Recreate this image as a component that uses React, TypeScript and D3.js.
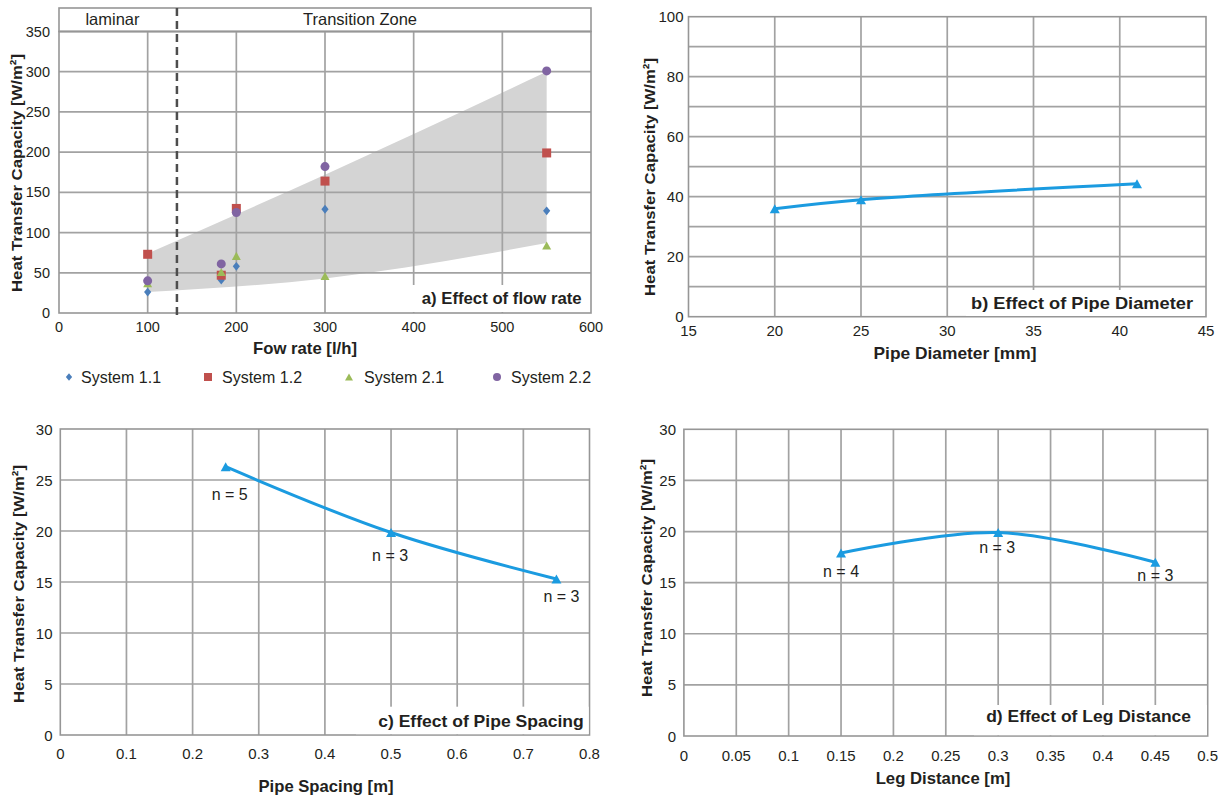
import React from "react";
import * as d3 from "d3";

const FONT = "'Liberation Sans', Arial, Helvetica, sans-serif";

// ---------- Panel a: effect of flow rate ----------
const flowRates = [100, 183, 200, 300, 550];
const system11 = [26, 41, 58, 129, 127];
const system12 = [73, 47, 130, 164, 199];
const system21 = [37, 51, 71, 46, 84];
const system22 = [40, 61, 125, 182, 301];
const seriesNames = ["System 1.1", "System 1.2", "System 2.1", "System 2.2"];
const bandFlow = [100, 300, 550];
const bandLower = [26, 43, 87];
const bandUpper = [74, 172, 300];
const laminarLimit = 133;
const flowXTicks = [0, 100, 200, 300, 400, 500, 600];
const flowYTicks = [0, 50, 100, 150, 200, 250, 300, 350];

// ---------- Panel b: effect of pipe diameter ----------
const pipeDiameters = [20, 25, 41];
const diameterCapacity = [36, 39, 44.3];
const diameterXTicks = [15, 20, 25, 30, 35, 40, 45];
const diameterYGrid = [0, 10, 20, 30, 40, 50, 60, 70, 80, 90, 100];
const diameterYLabels = [0, 20, 40, 60, 80, 100];

// ---------- Panel c: effect of pipe spacing ----------
const pipeSpacings = [0.25, 0.5, 0.75];
const spacingCapacity = [26.3, 19.85, 15.3];
const spacingNotes = ["n = 5", "n = 3", "n = 3"];
const spacingXTicks = [0, 0.1, 0.2, 0.3, 0.4, 0.5, 0.6, 0.7, 0.8];
const spacingXLabels = ["0", "0.1", "0.2", "0.3", "0.4", "0.5", "0.6", "0.7", "0.8"];

// ---------- Panel d: effect of leg distance ----------
const legDistances = [0.15, 0.3, 0.45];
const legCapacity = [17.9, 19.9, 17.0];
const legNotes = ["n = 4", "n = 3", "n = 3"];
const legXTicks = [0, 0.05, 0.1, 0.15, 0.2, 0.25, 0.3, 0.35, 0.4, 0.45, 0.5];
const legXLabels = ["0", "0.05", "0.1", "0.15", "0.2", "0.25", "0.3", "0.35", "0.4", "0.45", "0.5"];

const capacityYTicks = [0, 5, 10, 15, 20, 25, 30];

// ---------- styles ----------
const GRID = "#a2a2a2";
const BORDER = "#969696";
const TEXT = "#231f20";
const LINE_BLUE = "#1b9be0";
const SERIES_COLORS = ["#4a7ebb", "#c0504d", "#9bbb59", "#8064a2"];
const BAND = "#d4d4d4";
const Y_LABEL = "Heat Transfer Capacity [W/m²]";

const trianglePath = (w: number, h: number) =>
  `M0,${-h / 2}L${w / 2},${h / 2}L${-w / 2},${h / 2}Z`;

function marker(kind: number, x: number, y: number, color: string, s: number, key: string) {
  if (kind === 0) {
    return (
      <path key={key} d={`M0,${-s * 0.55}L${s * 0.45},0L0,${s * 0.55}L${-s * 0.45},0Z`}
        transform={`translate(${x},${y})`} fill={color} />
    );
  }
  if (kind === 1) {
    return <rect key={key} x={x - s / 2} y={y - s / 2} width={s} height={s} fill={color} />;
  }
  if (kind === 2) {
    return <path key={key} d={trianglePath(s, s * 0.9)} transform={`translate(${x},${y})`} fill={color} />;
  }
  return <circle key={key} cx={x} cy={y} r={s / 2} fill={color} />;
}

type Frame = { left: number; right: number; top: number; bottom: number };

function YLabel({ x, y }: { x: number; y: number }) {
  return (
    <text transform={`translate(${x},${y}) rotate(-90)`} textAnchor="middle" dominantBaseline="central"
      fontFamily={FONT} fontWeight="bold" fontSize={15.5} fill={TEXT} textLength={238} lengthAdjust="spacingAndGlyphs">
      {Y_LABEL}
    </text>
  );
}

function Title({ text, right, baseline, width, box }: { text: string; right: number; baseline: number; width: number; box: [number, number, number, number] }) {
  return (
    <g>
      <rect x={box[0]} y={box[1]} width={box[2] - box[0]} height={box[3] - box[1]} fill="#ffffff" />
      <text x={right} y={baseline} textAnchor="end" fontFamily={FONT} fontWeight="bold" fontSize={17}
        fill={TEXT} textLength={width} lengthAdjust="spacingAndGlyphs">{text}</text>
    </g>
  );
}

function PanelA() {
  const f: Frame = { left: 59, right: 591, top: 31.5, bottom: 313 };
  const x = d3.scaleLinear().domain([0, 600]).range([f.left, f.right]);
  const y = d3.scaleLinear().domain([0, 350]).range([f.bottom, f.top]);
  const headerTop = 8;

  const upper = d3.line<number>().x((_, i) => x(bandFlow[i])).y((d) => y(d)).curve(d3.curveMonotoneX)(bandUpper) || "";
  const lowerPts = bandFlow.map((v, i) => [x(v), y(bandLower[i])] as [number, number]).reverse();
  const lower = d3.line().curve(d3.curveMonotoneX)(lowerPts) || "";
  const bandPath = upper + "L" + lower.slice(1) + "Z";

  const series = [system11, system12, system21, system22];
  const legendX = [69, 208, 349, 497];
  const legendTextX = [81, 222, 364, 511];

  return (
    <g>
      {/* header band */}
      <rect x={f.left} y={headerTop} width={f.right - f.left} height={f.top - headerTop} fill="#fff" stroke={BORDER} strokeWidth={1.6} />
      <text x={112.5} y={25} textAnchor="middle" fontFamily={FONT} fontSize={16.5} fill={TEXT}>laminar</text>
      <text x={303} y={25} textAnchor="start" fontFamily={FONT} fontSize={16.5} fill={TEXT}>Transition Zone</text>

      <path d={bandPath} fill={BAND} />

      {flowXTicks.slice(1, -1).map((t) => (
        <line key={"gx" + t} x1={x(t)} x2={x(t)} y1={f.top} y2={f.bottom} stroke={GRID} strokeWidth={1.7} />
      ))}
      {flowYTicks.slice(1).map((t) => (
        <line key={"gy" + t} x1={f.left} x2={f.right} y1={y(t)} y2={y(t)} stroke={GRID} strokeWidth={1.7} />
      ))}
      <rect x={f.left} y={f.top} width={f.right - f.left} height={f.bottom - f.top} fill="none" stroke={BORDER} strokeWidth={1.6} />

      <line x1={x(laminarLimit)} x2={x(laminarLimit)} y1={headerTop} y2={f.bottom + 4} stroke="#4d4d4d"
        strokeWidth={2.5} strokeDasharray="8,5" />

      <Title text="a) Effect of flow rate" right={581.7} baseline={303.5} width={160} box={[407, 285, 590, 312]} />

      {series.map((s, si) =>
        s.map((v, i) => marker(si, x(flowRates[i]), y(v), SERIES_COLORS[si], si === 0 ? 8 : 9, `m${si}-${i}`))
      )}

      {flowXTicks.map((t) => (
        <text key={"xl" + t} x={x(t)} y={331.5} textAnchor="middle" fontFamily={FONT} fontSize={14.5} fill={TEXT}>{t}</text>
      ))}
      {flowYTicks.map((t) => (
        <text key={"yl" + t} x={50} y={y(t)} textAnchor="end" dominantBaseline="central" fontFamily={FONT} fontSize={14.5} fill={TEXT}>{t}</text>
      ))}
      <YLabel x={16} y={173} />
      <text x={305} y={353.5} textAnchor="middle" fontFamily={FONT} fontWeight="bold" fontSize={16.5} fill={TEXT}
        textLength={104} lengthAdjust="spacingAndGlyphs">Fow rate [l/h]</text>

      {seriesNames.map((n, i) => (
        <g key={n}>
          {marker(i, legendX[i], 377, SERIES_COLORS[i], i === 0 ? 7 : 8, "lg" + i)}
          <text x={legendTextX[i]} y={377} dominantBaseline="central" fontFamily={FONT} fontSize={16} fill={TEXT}>{n}</text>
        </g>
      ))}
    </g>
  );
}

function LinePanel(props: {
  f: Frame;
  xDomain: [number, number];
  yDomain: [number, number];
  xTicks: number[];
  xLabels: string[];
  yGrid: number[];
  yLabels: number[];
  xs: number[];
  ys: number[];
  notes?: string[];
  noteOffsets?: [number, number][];
  title: string;
  titleRight: number;
  titleBaseline: number;
  titleWidth: number;
  titleBox: [number, number, number, number];
  xLabel: string;
  xLabelX: number;
  xLabelBaseline: number;
  xLabelWidth: number;
  xTickBaseline: number;
  yTickRight: number;
  yLabelX: number;
  yLabelY: number;
}) {
  const p = props;
  const { f } = p;
  const x = d3.scaleLinear().domain(p.xDomain).range([f.left, f.right]);
  const y = d3.scaleLinear().domain(p.yDomain).range([f.bottom, f.top]);
  const pts = p.xs.map((v, i) => [x(v), y(p.ys[i])] as [number, number]);
  const path = d3.line().curve(d3.curveCatmullRom.alpha(0.5))(pts) || "";
  return (
    <g>
      {p.xTicks.slice(1, -1).map((t) => (
        <line key={"gx" + t} x1={x(t)} x2={x(t)} y1={f.top} y2={f.bottom} stroke={GRID} strokeWidth={1.7} />
      ))}
      {p.yGrid.slice(1, -1).map((t) => (
        <line key={"gy" + t} x1={f.left} x2={f.right} y1={y(t)} y2={y(t)} stroke={GRID} strokeWidth={1.7} />
      ))}
      <rect x={f.left} y={f.top} width={f.right - f.left} height={f.bottom - f.top} fill="none" stroke={BORDER} strokeWidth={1.6} />
      <Title text={p.title} right={p.titleRight} baseline={p.titleBaseline} width={p.titleWidth} box={p.titleBox} />

      {p.notes && p.notes.map((n, i) => (
        <text key={"n" + i} x={pts[i][0] + p.noteOffsets![i][0]} y={pts[i][1] + p.noteOffsets![i][1]} textAnchor="middle"
          dominantBaseline="central" fontFamily={FONT} fontSize={16} fill={TEXT}>{n}</text>
      ))}

      <path d={path} fill="none" stroke={LINE_BLUE} strokeWidth={3} />
      {pts.map((pt, i) => (
        <path key={"t" + i} d={trianglePath(10, 9)} transform={`translate(${pt[0]},${pt[1]})`} fill={LINE_BLUE} />
      ))}

      {p.xTicks.map((t, i) => (
        <text key={"xl" + i} x={x(t)} y={p.xTickBaseline} textAnchor="middle" fontFamily={FONT} fontSize={15} fill={TEXT}>{p.xLabels[i]}</text>
      ))}
      {p.yLabels.map((t) => (
        <text key={"yl" + t} x={p.yTickRight} y={y(t)} textAnchor="end" dominantBaseline="central" fontFamily={FONT} fontSize={15} fill={TEXT}>{t}</text>
      ))}
      <YLabel x={p.yLabelX} y={p.yLabelY} />
      <text x={p.xLabelX} y={p.xLabelBaseline} textAnchor="middle" fontFamily={FONT} fontWeight="bold" fontSize={16.5} fill={TEXT}
        textLength={p.xLabelWidth} lengthAdjust="spacingAndGlyphs">{p.xLabel}</text>
    </g>
  );
}

export default function App() {
  return (
    <svg width={1227} height={798} viewBox="0 0 1227 798"
      style={{ position: "absolute", left: 0, top: 0, background: "#fff" }}>
      <rect x={0} y={0} width={1227} height={798} fill="#fff" />
      <PanelA />
      <LinePanel
        f={{ left: 688.5, right: 1206, top: 16.7, bottom: 316.7 }}
        xDomain={[15, 45]} yDomain={[0, 100]}
        xTicks={diameterXTicks} xLabels={diameterXTicks.map(String)}
        yGrid={diameterYGrid} yLabels={diameterYLabels}
        xs={pipeDiameters} ys={diameterCapacity}
        title="b) Effect of Pipe Diameter" titleRight={1193} titleBaseline={308.5} titleWidth={222}
        titleBox={[966, 290, 1205, 316]}
        xLabel="Pipe Diameter [mm]" xLabelX={955} xLabelBaseline={358.5} xLabelWidth={163}
        xTickBaseline={336} yTickRight={683.5} yLabelX={649} yLabelY={177}
      />
      <LinePanel
        f={{ left: 60.3, right: 589.5, top: 429, bottom: 735 }}
        xDomain={[0, 0.8]} yDomain={[0, 30]}
        xTicks={spacingXTicks} xLabels={spacingXLabels}
        yGrid={capacityYTicks} yLabels={capacityYTicks}
        xs={pipeSpacings} ys={spacingCapacity}
        notes={spacingNotes} noteOffsets={[[4, 28], [-1, 22.5], [5, 18]]}
        title="c) Effect of Pipe Spacing" titleRight={583.7} titleBaseline={726.5} titleWidth={205.5}
        titleBox={[356, 706.7, 588.7, 734.2]}
        xLabel="Pipe Spacing [m]" xLabelX={326} xLabelBaseline={792} xLabelWidth={135}
        xTickBaseline={758.5} yTickRight={52.5} yLabelX={18.7} yLabelY={584}
      />
      <LinePanel
        f={{ left: 683.9, right: 1207.7, top: 429.3, bottom: 736 }}
        xDomain={[0, 0.5]} yDomain={[0, 30]}
        xTicks={legXTicks} xLabels={legXLabels}
        yGrid={capacityYTicks} yLabels={capacityYTicks}
        xs={legDistances} ys={legCapacity}
        notes={legNotes} noteOffsets={[[0, 18], [-1, 15], [0, 13.5]]}
        title="d) Effect of Leg Distance" titleRight={1191} titleBaseline={722} titleWidth={204.8}
        titleBox={[974, 705, 1207, 735.2]}
        xLabel="Leg Distance [m]" xLabelX={943} xLabelBaseline={783.5} xLabelWidth={134.7}
        xTickBaseline={760.5} yTickRight={676} yLabelX={646} yLabelY={578}
      />
    </svg>
  );
}
